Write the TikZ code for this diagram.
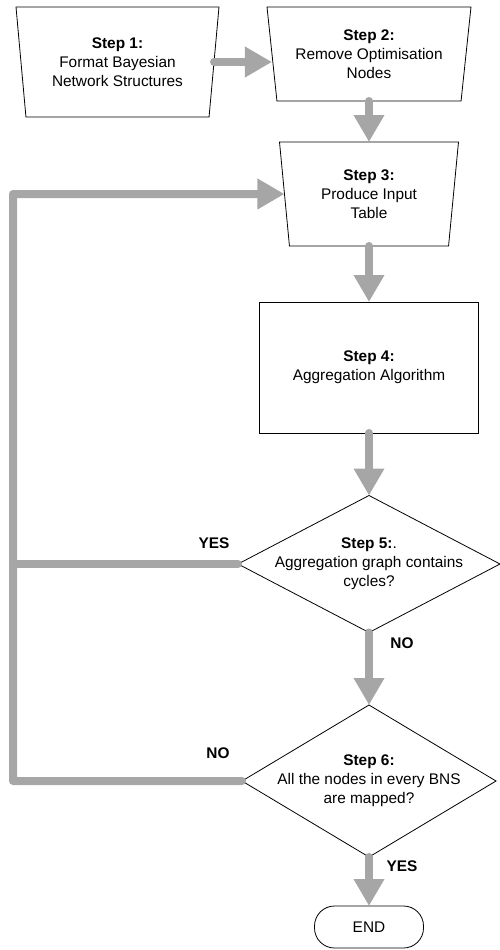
\documentclass[tikz,border=0pt]{standalone}
\usepackage{fontspec}
\setmainfont{Liberation Sans}
\usepackage{tikz}
\usetikzlibrary{arrows.meta,positioning,calc,shapes.geometric}
\definecolor{arrowgrey}{HTML}{A6A6A6}
\newcommand{\stepfont}{\fontsize{15.4}{19}\selectfont}

\begin{document}
\begin{tikzpicture}[
  x=1pt,y=-1pt,
  font=\stepfont,
  trap/.style={draw,line width=0.8pt,shape=trapezium,shape border rotate=180,
               trapezium stretches body,trapezium left angle=78.5,
               trapezium right angle=78.5,inner sep=0pt,outer sep=0pt,align=center},
  rbox/.style={draw,line width=0.8pt,inner sep=0pt,outer sep=0pt,align=center},
  dec/.style={draw,line width=0.8pt,shape=diamond,inner sep=-60pt,outer sep=0pt,
              align=center},
  term/.style={draw,line width=0.8pt,rounded corners=20pt,inner sep=0pt,outer sep=0pt,
               minimum width=109pt,minimum height=42pt},
  ar/.style={-{Triangle[length=27pt,width=29pt]},line width=8pt,arrowgrey,
             line cap=round,line join=round},
  ln/.style={line width=8pt,arrowgrey,line cap=round},
  lbl/.style={font=\stepfont\bfseries},
]
\useasboundingbox (0,0) rectangle (500,950);

\node[trap,minimum width=203pt,minimum height=110pt] (s1) at (117.5,62)
  {\textbf{Step 1:}\\ Format Bayesian\\ Network Structures};
\node[trap,minimum width=204pt,minimum height=94pt] (s2) at (369,54)
  {\textbf{Step 2:}\\ Remove Optimisation\\ Nodes};
\node[trap,minimum width=179pt,minimum height=104pt] (s3) at (369,194)
  {\textbf{Step 3:}\\ Produce Input\\ Table};
\node[rbox,minimum width=219pt,minimum height=131pt] (s4) at (369,367.5)
  {\textbf{Step 4:}\\ Aggregation Algorithm};
\node[dec,minimum width=262pt,minimum height=137pt] (s5) at (369,564)
  {\textbf{Step 5:}.\\ Aggregation graph contains\\ cycles?};
\node[dec,minimum width=254pt,minimum height=152pt] (s6) at (369,781)
  {\textbf{Step 6:}\\ All the nodes in every BNS\\ are mapped?};
\node[term] (end) at (369,927) {END};

\coordinate (lt) at (13,194);

\draw[ar] (s1.east) -- (s1.east -| s2.west);
\draw[ar] (s2) -- (s3);
\draw[ar] (s3) -- (s4);
\draw[ar] (s4) -- (s5);
\draw[ar] (s5) -- (s6);
\draw[ar] (s6) -- (end);
\draw[ar] (s6.west) -| (lt) -- (s3.west);
\draw[ln] (s5.west) -- (s5.west -| lt);

\node[lbl] (yes5) at (214,543) {YES};
\node[lbl] (no5) at (402,643) {NO};
\node[lbl] (no6) at (218,753) {NO};
\node[lbl] (yes6) at (402,866) {YES};
\end{tikzpicture}
\end{document}
